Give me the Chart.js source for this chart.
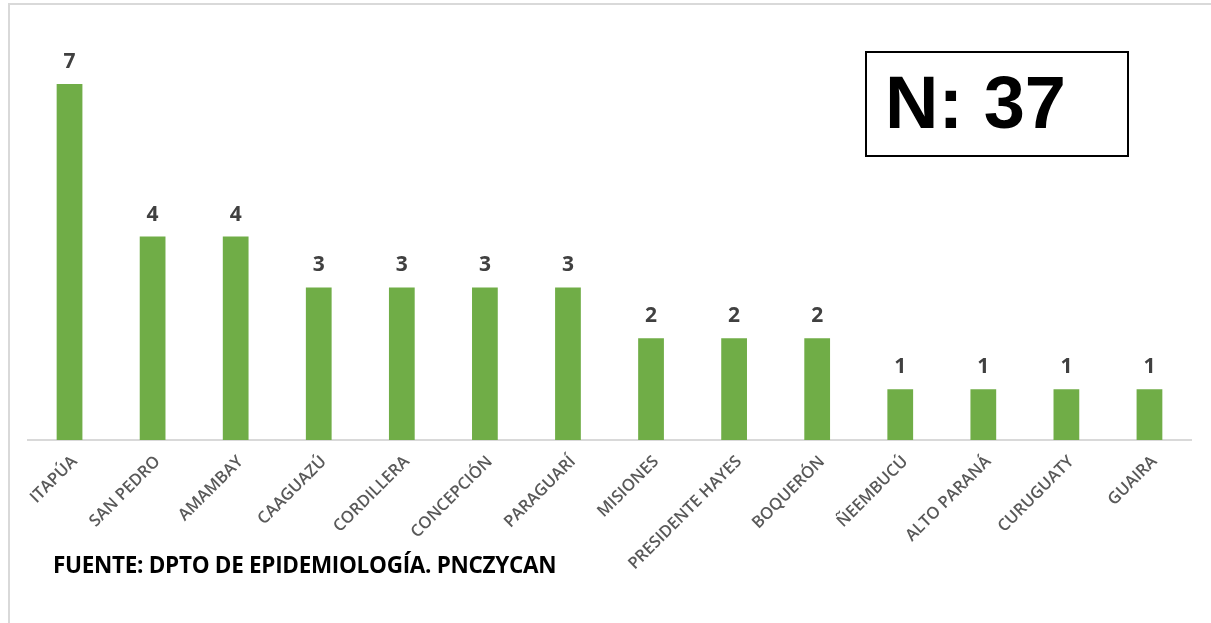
<!DOCTYPE html>
<html>
<head>
  <meta charset="utf-8">
  <title>Casos por departamento</title>
  <script src="https://cdn.jsdelivr.net/npm/chart.js@4.4.0/dist/chart.umd.min.js"></script>
  <style>
    body {
      margin: 0;
      background: #fff;
    }
    .frame {
      position: absolute;
      left: 8px;
      top: 3px;
      width: 1203px;
      height: 620px;
      border-top: 2px solid #d9d9d9;
      border-left: 2px solid #d9d9d9;
    }
    #chart {
      position: absolute;
      left: 0;
      top: 0;
    }
    .total-box {
      position: absolute;
      left: 865px;
      top: 51px;
      width: 264px;
      height: 106px;
      box-sizing: border-box;
      border: 2px solid #000;
      font-family: "Liberation Sans", Arial, sans-serif;
      font-weight: bold;
      font-size: 74px;
      line-height: 100px;
      padding-left: 18px;
    }
    .source {
      position: absolute;
      left: 53px;
      top: 549px;
      font-family: "Open Sans", sans-serif;
      font-weight: 700;
      font-size: 22.5px;
      color: #000;
      letter-spacing: -0.3px;
    }
  </style>
</head>
<body>

<div class="frame"></div>
<canvas id="chart" width="1211" height="623"></canvas>
<div class="total-box">N: 37</div>
<div class="source">FUENTE: DPTO DE EPIDEMIOLOGÍA. PNCZYCAN</div>

<script>
  const departamentos = ['ITAPÚA', 'SAN PEDRO', 'AMAMBAY', 'CAAGUAZÚ', 'CORDILLERA', 'CONCEPCIÓN',
    'PARAGUARÍ', 'MISIONES', 'PRESIDENTE HAYES', 'BOQUERÓN', 'ÑEEMBUCÚ', 'ALTO PARANÁ',
    'CURUGUATY', 'GUAIRA'];
  const casos = [7, 4, 4, 3, 3, 3, 3, 2, 2, 2, 1, 1, 1, 1];

  // etiquetas de valor encima de cada barra
  const valueLabels = {
    id: 'valueLabels',
    afterDatasetsDraw(chart) {
      const ctx = chart.ctx;
      const meta = chart.getDatasetMeta(0);
      ctx.save();
      ctx.font = 'bold 21px "Open Sans", sans-serif';
      ctx.fillStyle = '#404040';
      ctx.textAlign = 'center';
      ctx.textBaseline = 'alphabetic';
      meta.data.forEach((bar, i) => {
        ctx.fillText(casos[i], bar.x, bar.y - 16);
      });
      ctx.restore();
    }
  };

  new Chart(document.getElementById('chart'), {
    type: 'bar',
    data: {
      labels: departamentos,
      datasets: [{
        data: casos,
        backgroundColor: '#70ad47',
        barPercentage: 0.31,
        categoryPercentage: 1.0
      }]
    },
    options: {
      responsive: false,
      animation: false,
      layout: {
        padding: { left: 28, right: 20, top: 84, bottom: 0 }
      },
      plugins: {
        legend: { display: false },
        tooltip: { enabled: false }
      },
      scales: {
        x: {
          grid: { display: false },
          border: { color: '#d9d9d9', width: 2 },
          ticks: {
            color: '#595959',
            font: { family: '"Open Sans", sans-serif', size: 16.5, weight: '600' },
            minRotation: 45,
            maxRotation: 45,
            labelOffset: 5,
            padding: 4
          },
          afterFit(scale) {
            scale.height = 183;
          }
        },
        y: {
          display: false,
          min: 0,
          max: 7
        }
      }
    },
    plugins: [valueLabels]
  });
</script>

</body>
</html>
